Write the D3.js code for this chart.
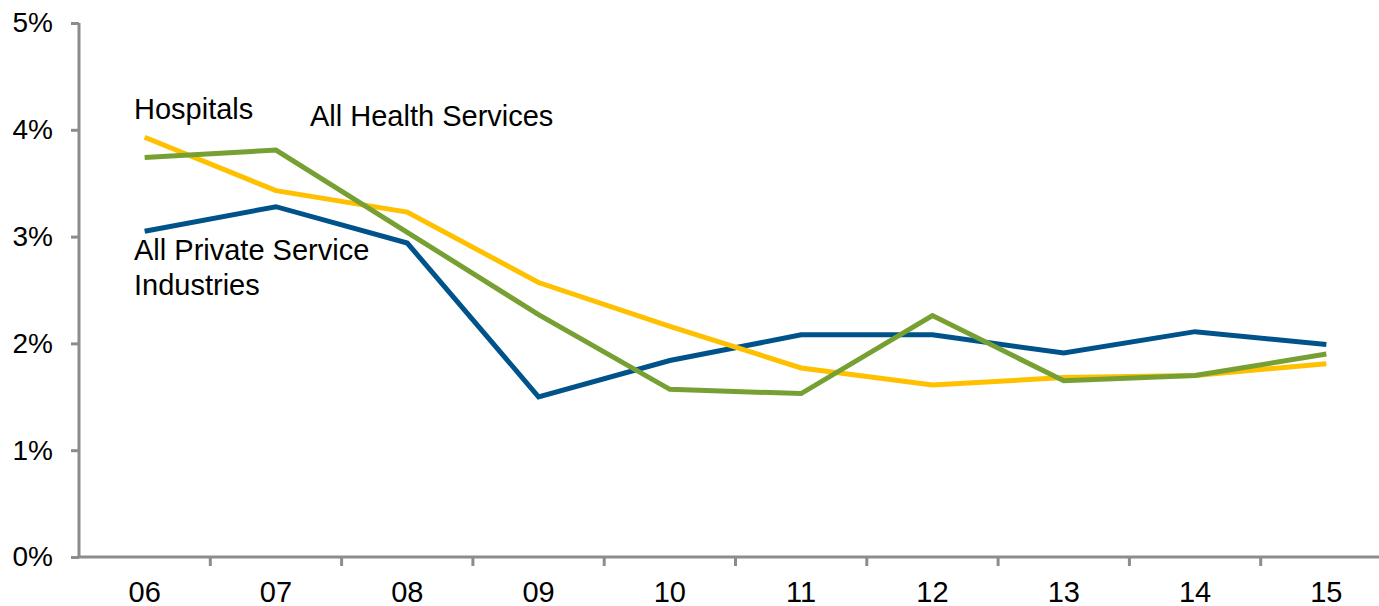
<!DOCTYPE html>
<html><head><meta charset="utf-8">
<script src="https://cdn.jsdelivr.net/npm/d3@7"></script>
<style>body{margin:0;background:#fff}svg{display:block}text{font-family:"Liberation Sans",Arial,sans-serif}</style>
</head><body><svg id="c" width="1379" height="606"></svg>
<script>
const categories = ["06","07","08","09","10","11","12","13","14","15"];
const allPrivate = [3.05,3.28,2.94,1.50,1.84,2.08,2.08,1.91,2.11,1.99];
const hospitals  = [3.93,3.43,3.23,2.57,2.16,1.77,1.61,1.68,1.70,1.81];
const allHealth  = [3.74,3.81,3.04,2.27,1.57,1.53,2.26,1.65,1.70,1.90];
const yTicks = [0,1,2,3,4,5];

const svg = d3.select("#c");
const x = d3.scaleBand().domain(categories).range([79, 1392]);
const y = d3.scaleLinear().domain([0,5]).range([557, 23]);
const axisColor = "#8c8c8c";

// y axis
const ya = svg.append("g").attr("transform","translate(79,0)")
  .call(d3.axisLeft(y).tickValues(yTicks).tickFormat(d=>d+"%").tickSize(8).tickPadding(18));
ya.select(".domain").attr("stroke",axisColor).attr("stroke-width",3).attr("d","M0,23V557");
ya.selectAll(".tick line").attr("stroke",axisColor).attr("stroke-width",3);
ya.selectAll(".tick text").attr("font-size",28).attr("fill","#000").attr("font-family","Liberation Sans, Arial, sans-serif");

// x axis
const xa = svg.append("g").attr("transform","translate(0,557)")
  .call(d3.axisBottom(x).tickSize(0).tickPadding(24));
xa.select(".domain").attr("stroke",axisColor).attr("stroke-width",3).attr("d","M79,0H1379");
xa.selectAll(".tick text").attr("font-size",29).attr("fill","#000").attr("font-family","Liberation Sans, Arial, sans-serif");
xa.selectAll(".bt").data(categories.slice(1)).enter().append("line")
  .attr("x1",d=>x(d)).attr("x2",d=>x(d)).attr("y1",0).attr("y2",9)
  .attr("stroke",axisColor).attr("stroke-width",3);

const line = d3.line().x((d,i)=>x(categories[i])+x.bandwidth()/2).y(d=>y(d));
const series = [
  {v: allPrivate, c: "#00538a"},
  {v: hospitals, c: "#ffc000"},
  {v: allHealth, c: "#77a033"}
];
series.forEach(s=>{
  svg.append("path").datum(s.v).attr("d",line).attr("fill","none")
    .attr("stroke",s.c).attr("stroke-width",5).attr("stroke-linejoin","miter");
});

const labels = [
  {t:"Hospitals", x:134, y:119},
  {t:"All Health Services", x:310, y:126},
  {t:"All Private Service", x:134, y:260},
  {t:"Industries", x:134, y:295}
];
svg.selectAll(".lbl").data(labels).enter().append("text")
  .attr("x",d=>d.x).attr("y",d=>d.y).attr("font-size",29).attr("fill","#000").text(d=>d.t);
</script></body></html>
